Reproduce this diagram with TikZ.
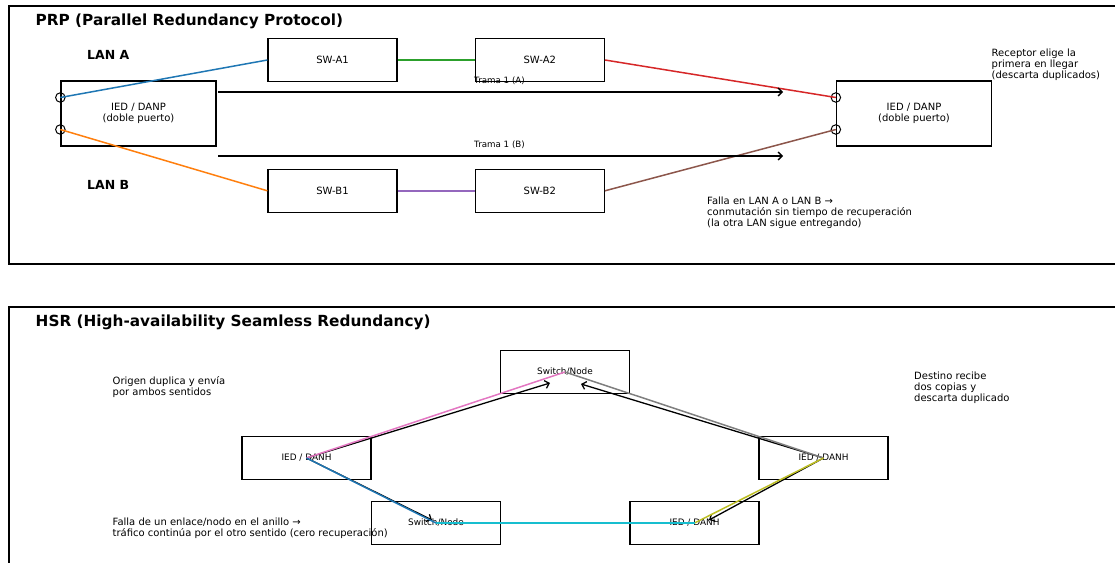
\documentclass[tikz,border=0pt]{standalone}
\usepackage{fontspec}
\setmainfont{DejaVu Sans}
\usepackage{xcolor}
\usepackage{tikz}
\usetikzlibrary{arrows.meta,positioning}

\definecolor{lnblue}{RGB}{31,119,180}
\definecolor{lnorange}{RGB}{255,127,14}
\definecolor{lngreen}{RGB}{44,160,44}
\definecolor{lnred}{RGB}{214,39,40}
\definecolor{lnpurple}{RGB}{148,103,189}
\definecolor{lnbrown}{RGB}{140,86,75}
\definecolor{lnpink}{RGB}{227,119,194}
\definecolor{lngray}{RGB}{127,127,127}
\definecolor{lnolive}{RGB}{188,189,34}
\definecolor{lncyan}{RGB}{23,190,207}

\begin{document}
\begin{tikzpicture}[
    x=1pt, y=-1pt,
    panel/.style={draw, line width=1.6pt},
    iedbox/.style={rectangle, draw, line width=1.3pt, minimum width=155pt, minimum height=65pt, align=center, font=\fontsize{10}{11}\selectfont},
    swbox/.style={rectangle, draw, line width=1.3pt, minimum width=129pt, minimum height=43pt, font=\fontsize{10}{11}\selectfont},
    ringbox/.style={swbox, font=\fontsize{8.9}{10}\selectfont},
    port/.style={circle, draw, line width=1pt, minimum size=9.5pt, inner sep=0pt},
    link/.style={line width=1.5pt},
    flow/.style={-{Straight Barb[length=4pt,width=8pt]}, line width=1.3pt},
    title/.style={anchor=west, inner sep=0pt, font=\bfseries\fontsize{15.3}{18}\selectfont},
    lan/.style={anchor=west, inner sep=0pt, font=\bfseries\fontsize{12.5}{15}\selectfont},
    note/.style={anchor=west, inner sep=0pt, align=left, font=\fontsize{10}{11}\selectfont},
    tag/.style={anchor=west, inner sep=0pt, font=\fontsize{8.7}{10}\selectfont}
]
\useasboundingbox (0,0) rectangle (1115,562);
\clip (0,0) rectangle (1115,562);

% Panels
\draw[panel] (9,6) rectangle (1125,264);
\draw[panel] (9,307) rectangle (1125,575);

% PRP
\node[title] (prpTitle) at (35.5,21) {PRP (Parallel Redundancy Protocol)};
\node[lan] (lanA) at (87,55) {LAN A};
\node[lan] (lanB) at (87,185) {LAN B};

\node[iedbox] (iedA) at (138.5,113.5) {IED / DANP\\(doble puerto)};
\node[swbox] (swA1) at (332.5,60) {SW-A1};
\node[swbox, right=77pt of swA1] (swA2) {SW-A2};
\node[swbox, below=86.5pt of swA1] (swB1) {SW-B1};
\node[swbox, below=86.5pt of swA2] (swB2) {SW-B2};
\node[iedbox] (iedB) at (914,113.5) {IED / DANP\\(doble puerto)};

% Ports
\node[port] (pA1) at ([yshift=16pt]iedA.west) {};
\node[port] (pB1) at ([yshift=-16pt]iedA.west) {};
\node[port] (pA2) at ([yshift=16pt]iedB.west) {};
\node[port] (pB2) at ([yshift=-16pt]iedB.west) {};

% Links
\draw[link, draw=lnblue] (pA1.center) -- (swA1.west);
\draw[link, draw=lnorange] (pB1.center) -- (swB1.west);
\draw[link, draw=lngreen] (swA1.east) -- (swA2.west);
\draw[link, draw=lnpurple] (swB1.east) -- (swB2.west);
\draw[link, draw=lnred] (swA2.east) -- (pA2.center);
\draw[link, draw=lnbrown] (swB2.east) -- (pB2.center);

% Frames
\coordinate (tA0) at (218,92);
\coordinate (tA1) at (783,92);
\coordinate (tB0) at (218,156);
\coordinate (tB1) at (783,156);
\draw[flow] (tA0) -- (tA1);
\draw[flow] (tB0) -- (tB1);
\node[tag] (tagA) at (474,80.5) {Trama 1 (A)};
\node[tag] (tagB) at (474,145) {Trama 1 (B)};

% Notes
\node[note] (rxNote) at (991.5,65) {Receptor elige la\\primera en llegar\\(descarta duplicados)};
\node[note] (failNote) at (707,213) {Falla en LAN A o LAN B →\\conmutación sin tiempo de recuperación\\(la otra LAN sigue entregando)};

% HSR
\node[title] (hsrTitle) at (35.5,322.5) {HSR (High-availability Seamless Redundancy)};

\node[ringbox] (nTop) at (565,372) {Switch/Node};
\node[ringbox] (nLeft) at (306.5,458) {IED / DANH};
\node[ringbox] (nRight) at (823.5,458) {IED / DANH};
\node[ringbox] (nBotL) at (436,523) {Switch/Node};
\node[ringbox] (nBotR) at (694.5,523) {IED / DANH};

% Copies
\coordinate (toTopL) at (550,383);
\coordinate (toBotL) at (432,520);
\coordinate (toTopR) at (581,384);
\coordinate (toBotR) at (709,520);
\draw[flow] (nLeft.center) -- (toTopL);
\draw[flow] (nLeft.center) -- (toBotL);
\draw[flow] (nRight.center) -- (toTopR);
\draw[flow] (nRight.center) -- (toBotR);

% Ring
\draw[link, draw=lnpink] (nLeft.center) -- (nTop.center);
\draw[link, draw=lngray] (nTop.center) -- (nRight.center);
\draw[link, draw=lnolive] (nRight.center) -- (nBotR.center);
\draw[link, draw=lncyan] (nBotR.center) -- (nBotL.center);
\draw[link, draw=lnblue] (nBotL.center) -- (nLeft.center);

\node[note] (srcNote) at (112.5,387.5) {Origen duplica y envía\\por ambos sentidos};
\node[note] (dstNote) at (914,387.5) {Destino recibe\\dos copias y\\descarta duplicado};
\node[note] (ringNote) at (112.5,528) {Falla de un enlace/nodo en el anillo →\\tráfico continúa por el otro sentido (cero recuperación)};

\end{tikzpicture}
\end{document}
